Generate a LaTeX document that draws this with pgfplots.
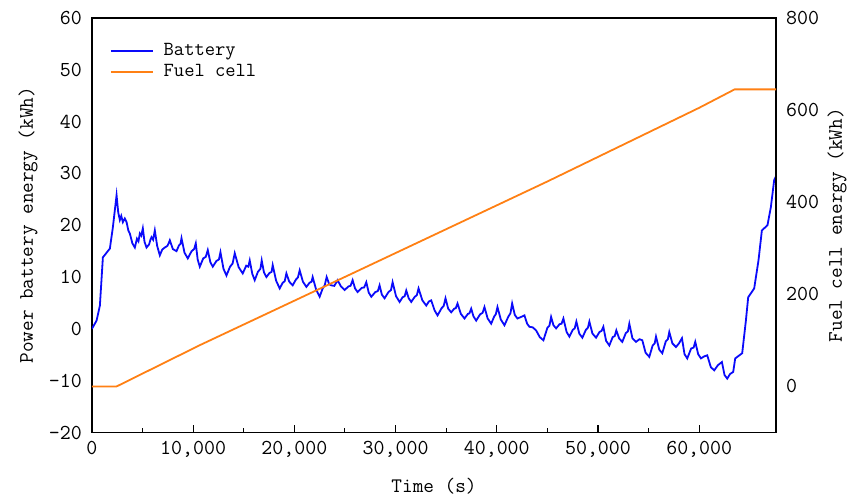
\documentclass[border=0pt]{standalone}
\usepackage{pgfplots}
\pgfplotsset{compat=1.18}
\definecolor{batblue}{RGB}{10,10,250}
\definecolor{fcorange}{RGB}{255,128,20}
\begin{document}
\begin{tikzpicture}[font=\fontsize{15}{17}\selectfont\ttfamily]
\pgfplotsset{
  every axis/.style={
    scale only axis, width=513.75pt, height=311.25pt,
    xmin=0, xmax=67600,
    axis line style={line width=1pt},
    /pgf/number format/assume math mode=true,
    ticklabel style={font=\fontsize{16}{18}\selectfont\ttfamily},
    label style={font=\fontsize{15.5}{17}\selectfont\ttfamily},
  }
}
\begin{axis}[
  ymin=-20, ymax=60, ytick={-20,-10,...,60},
  ytick style={draw=none},
  xtick={0,10000,...,60000},
  minor x tick num=1,
  xtick pos=bottom, tick align=inside,
  major tick length=6pt, minor tick length=3.5pt,
  tick style={black, line width=0.8pt},
  scaled x ticks=false,
  xticklabel style={yshift=-3pt, /pgf/number format/.cd, 1000 sep={,}},
  yticklabel style={xshift=-4pt},
  xlabel={Time (s)},
  ylabel={Power battery energy (kWh)},
  xlabel style={at={(axis description cs:0.5,-0.130)}, anchor=center},
  ylabel style={at={(axis description cs:-0.0934,0.5)}, anchor=center},
  legend style={draw=none, fill=none, at={(0.026,0.945)}, anchor=north west,
    font=\fontsize{15}{17}\selectfont\ttfamily, row sep=1pt,
    inner sep=0pt},
  legend cell align=left,
  legend image code/.code={\draw[#1] (0cm,0cm) -- (1.1cm,0cm); \path (1.3cm,0cm);},
]
% Battery energy
\addplot[batblue, line width=1.35pt] coordinates {
(0,0) (464,1.6) (790,4.5) (1086,13.8) (1776,15.5) (2072,19.6) (2438,25.8)
(2600,22.5) (2763,21) (2900,21.8) (3059,20.6) (3250,21.3) (3425,20.6) (3600,19.0)
(3750,18.4) (4000,16.5) (4244,15.7) (4450,17.4) (4600,16.9) (4737,18.4) (4880,18.0)
(5033,19.4) (5200,16.8) (5398,15.7) (5650,16.3) (5780,17.2) (5892,17.7) (6050,17.2)
(6217,19) (6450,16.0) (6711,14.2) (6950,15.3) (7204,15.7) (7450,16.0) (7600,16.6)
(7698,17.1) (8000,15.4) (8359,15) (8600,16.1) (8750,16.4) (8853,17.5) (9150,14.7)
(9474,13.6) (9850,15.0) (10100,15.4) (10264,16.5) (10450,13.4) (10659,12) (11000,13.6)
(11250,13.9) (11448,15.2) (11700,12.9) (11941,12) (12300,13.1) (12550,13.4) (12701,14.8)
(13000,11.6) (13294,10.3) (13650,12.0) (13900,12.6) (14113,14.6) (14500,11.9) (14902,10.7)
(15250,12.2) (15450,12.0) (15593,13.2) (15850,10.6) (16086,9.4) (16400,11.0) (16650,11.6)
(16777,13.2) (17000,10.9) (17241,10) (17550,10.8) (17750,11.0) (17863,12.3) (18200,9.3)
(18554,7.8) (18850,8.9) (19050,9.2) (19215,10.7) (19500,9.1) (19837,8.4) (20150,9.5)
(20350,9.9) (20528,11.3) (20850,9.1) (21189,8.1) (21500,8.9) (21700,9.1) (21810,10)
(22150,7.6) (22501,6.2) (22800,7.8) (23000,8.4) (23192,10) (23450,8.6) (23656,8.4)
(23950,8.3) (24278,9.4) (24600,8.2) (24969,7.5) (25350,8.2) (25550,8.3) (25758,9.4)
(26000,7.8) (26252,7.1) (26650,7.9) (26900,8.0) (27110,9.0) (27350,7.0) (27604,6.2)
(28000,7.1) (28250,7.3) (28423,8.4) (28650,6.6) (28916,5.9) (29300,7.1) (29550,7.5)
(29706,9.0) (30050,6.3) (30397,5.2) (30700,6.1) (30900,6.3) (31058,7.4) (31300,5.9)
(31551,5.2) (31900,6.2) (32100,6.5) (32272,7.8) (32650,5.5) (33032,4.5) (33300,5.3)
(33525,5.5) (33850,3.6) (34147,2.6) (34550,4.0) (34750,4.4) (34936,5.9) (35200,3.9)
(35499,3.2) (35800,3.9) (35950,4.0) (36121,4.9) (36450,2.9) (36812,2.0) (37150,2.9)
(37300,3.0) (37473,3.9) (37700,2.4) (37966,1.6) (38350,2.8) (38600,3.1) (38785,4.2)
(39100,2.0) (39446,1.0) (39750,2.4) (39900,2.8) (40068,4.2) (40400,1.8) (40759,0.7)
(41150,2.4) (41350,3.0) (41519,4.9) (41780,2.7) (42042,2.0) (42400,2.3) (42733,2.6)
(43000,1.0) (43226,0.4) (43550,0.3) (43887,-0.3) (44250,-1.6) (44608,-2.2) (45000,0.2)
(45200,0.6) (45368,2.3) (45600,0.7) (45861,0.1) (46200,0.9) (46400,1.0) (46582,2.0)
(46900,-0.6) (47174,-1.5) (47500,-0.2) (47700,0.1) (47865,1.4) (48150,-0.9) (48457,-1.7)
(48800,-0.2) (49000,0.2) (49148,1.4) (49450,-0.9) (49809,-1.7) (50150,-0.6) (50350,-0.4)
(50529,0.4) (50800,-2.3) (51121,-3.2) (51450,-1.6) (51650,-1.4) (51812,-0.3) (52100,-1.9)
(52404,-2.5) (52750,-0.8) (52950,-0.5) (53095,1.0) (53400,-1.8) (53756,-2.5) (54100,-2.0)
(54378,-2.2) (54700,-4.6) (55069,-5.4) (55400,-3.2) (55600,-2.8) (55730,-1.5) (56050,-4.0)
(56352,-4.7) (56700,-2.4) (56900,-2.0) (57043,-0.6) (57350,-2.8) (57704,-3.5) (58000,-2.8)
(58296,-1.8) (58550,-4.9) (58819,-5.7) (59200,-3.8) (59450,-3.6) (59609,-2.5) (59900,-4.9)
(60171,-5.7) (60500,-5.3) (60793,-5.1) (61150,-7.4) (61484,-8.0) (61850,-7.0) (62244,-6.4)
(62500,-8.9) (62767,-9.6) (63050,-8.7) (63359,-8.3) (63556,-5.7) (64247,-4.7) (64612,1.6)
(64839,6.1) (65431,7.8) (65855,13.2) (66191,19) (66744,20) (67079,23.5) (67405,28.7)
(67600,29.5)
};
\addlegendentry{Battery}
\addlegendimage{fcorange, line width=1.35pt}
\addlegendentry{Fuel cell}
\end{axis}
\begin{axis}[
  ymin=-100, ymax=800, ytick={0,200,...,800},
  axis y line*=right, axis x line=none,
  ytick style={draw=none},
  yticklabel style={xshift=4pt},
  ylabel={Fuel cell energy (kWh)},
  ylabel style={at={(axis description cs:1.089,0.5)}, anchor=center, rotate=0},
]
% Fuel cell energy
\addplot[fcorange, line width=1.35pt] coordinates {
(0,0) (2440,0) (10700,90) (25500,243) (45000,445) (60000,605) (63500,645) (67600,645)
};
\end{axis}
\path ([shift={(-69pt,-49.5pt)}]current axis.south west)
  rectangle ([shift={(55.5pt,13.5pt)}]current axis.north east);
\end{tikzpicture}
\end{document}
